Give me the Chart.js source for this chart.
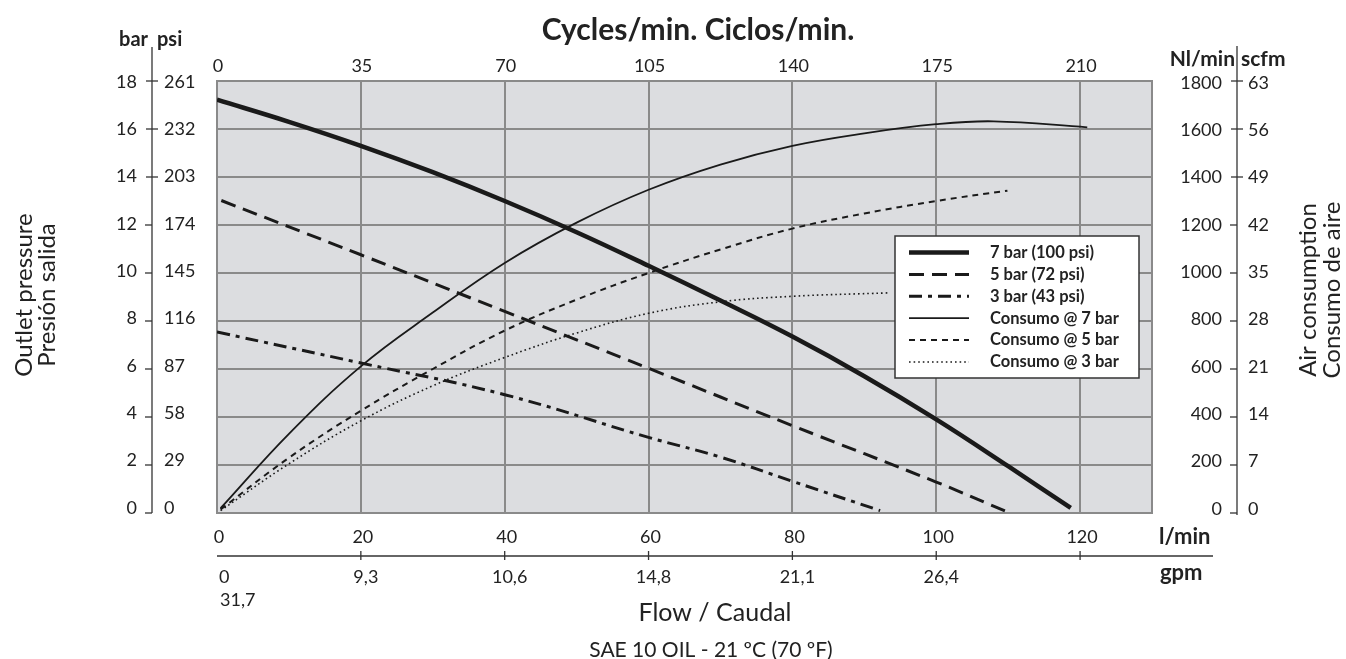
<!DOCTYPE html>
<html>
<head>
<meta charset="utf-8">
<script src="https://cdn.jsdelivr.net/npm/chart.js@4.4.1/dist/chart.umd.min.js"></script>
<style>
  html, body { margin: 0; padding: 0; background: #fff; }
  canvas { display: block; }
</style>
</head>
<body>
<canvas id="curva" width="1346" height="659"></canvas>
<script>
// ticks
const flowTicks = [0, 20, 40, 60, 80, 100, 120];
const cycleTicks = [0, 35, 70, 105, 140, 175, 210];
const gpmTicks = ["0", "9,3", "10,6", "14,8", "21,1", "26,4", ""];
const barTicks = [0, 2, 4, 6, 8, 10, 12, 14, 16, 18];
const psiTicks = [0, 29, 58, 87, 116, 145, 174, 203, 232, 261];
const nlTicks = [0, 200, 400, 600, 800, 1000, 1200, 1400, 1600, 1800];
const scfmTicks = [0, 7, 14, 21, 28, 35, 42, 49, 56, 63];

// presion de salida (bar) vs caudal (l/min)
const flow7 = [0, 10, 20, 30, 40, 50, 60, 70, 80, 90, 100, 110, 118.7];
const bar7 = [17.22, 16.3, 15.3, 14.2, 13.0, 11.7, 10.3, 8.85, 7.35, 5.7, 3.9, 1.95, 0.21];
const flow5 = [0.6, 20, 40, 60, 80, 100, 109.9];
const bar5 = [13.02, 10.76, 8.4, 6.03, 3.64, 1.29, 0.04];
const flow3 = [0, 20, 40, 60, 70, 80, 92.2];
const bar3 = [7.54, 6.25, 4.93, 3.15, 2.33, 1.32, 0.1];

// consumo de aire (Nl/min) vs caudal (l/min)
const airFlow7 = [0.5, 10, 20, 30, 40, 50, 60, 70, 80, 90, 100, 108, 121];
const air7 = [20, 330, 611, 835, 1042, 1210, 1347, 1452, 1530, 1582, 1620, 1632, 1607];
const airFlow5 = [0.5, 10, 20, 30, 40, 50, 60, 70, 80, 90, 100, 109.9];
const air5 = [15, 230, 426, 600, 760, 889, 1000, 1098, 1185, 1248, 1300, 1343];
const airFlow3 = [0.5, 10, 20, 30, 40, 50, 60, 70, 80, 93.2];
const air3 = [10, 205, 384, 530, 648, 750, 832, 880, 903, 917];

const FONT = "Lato, 'Open Sans', sans-serif";
const INK = "#1a1a1a";
const GRID = "#8a8a8a";

const pts = (xs, ys) => xs.map((x, i) => ({ x: x, y: ys[i] }));

const mkLine = (label, xs, ys, width, dash, axis) => ({
  label: label,
  data: pts(xs, ys),
  yAxisID: axis,
  borderColor: INK,
  borderWidth: width,
  borderDash: dash,
  borderCapStyle: "butt",
  pointRadius: 0,
  fill: false,
  tension: 0.4,
});

const datasets = [
  mkLine("7 bar (100 psi)", flow7, bar7, 4.5, [], "y"),
  mkLine("5 bar (72 psi)", flow5, bar5, 3, [15, 8], "y"),
  mkLine("3 bar (43 psi)", flow3, bar3, 3, [13, 6, 4, 6], "y"),
  mkLine("Consumo @ 7 bar", airFlow7, air7, 1.8, [], "y2"),
  mkLine("Consumo @ 5 bar", airFlow5, air5, 2, [6, 5], "y2"),
  mkLine("Consumo @ 3 bar", airFlow3, air3, 1.6, [1.6, 3], "y2"),
];

// dibujo de ejes, textos y leyenda
const decor = {
  id: "decor",
  beforeDraw(chart) {
    const { ctx, chartArea: a } = chart;
    ctx.save();
    ctx.fillStyle = "#dcdde0";
    ctx.fillRect(a.left, a.top, a.right - a.left, a.bottom - a.top);
    ctx.restore();
  },
  beforeDatasetsDraw(chart) {
    const { ctx, chartArea: a } = chart;
    ctx.save();
    ctx.strokeStyle = GRID;
    ctx.lineWidth = 2;
    ctx.strokeRect(a.left, a.top, a.right - a.left, a.bottom - a.top);
    ctx.restore();
  },
  afterDraw(chart) {
    const { ctx, chartArea: a } = chart;
    const sx = chart.scales.x;
    const sy = chart.scales.y;
    const sy2 = chart.scales.y2;
    ctx.save();
    ctx.fillStyle = "#222";
    ctx.strokeStyle = "#333";
    ctx.textBaseline = "middle";

    // titulo superior
    ctx.font = "bold 30px " + FONT;
    ctx.textAlign = "center";
    ctx.fillText("Cycles/min. Ciclos/min.", 698, 30);

    // ciclos arriba
    ctx.font = "18px " + FONT;
    cycleTicks.forEach((c, i) => {
      ctx.fillText(String(c), sx.getPixelForValue(flowTicks[i]) + 1, 66);
    });

    // eje izquierdo bar / psi
    const lx = 152;
    ctx.lineWidth = 1.3;
    ctx.beginPath();
    ctx.moveTo(lx, 47);
    ctx.lineTo(lx, a.bottom);
    ctx.stroke();
    barTicks.forEach((b, i) => {
      const y = sy.getPixelForValue(b);
      const ly = y - ((18 - b) / 18) * 6 + 1;
      ctx.beginPath();
      if (b >= 14) { ctx.moveTo(lx - 6, y); ctx.lineTo(lx + 6, y); }
      else { ctx.moveTo(lx - 7, y); ctx.lineTo(lx, y); }
      ctx.stroke();
      ctx.textAlign = "right";
      ctx.fillText(String(b), 137, ly);
      ctx.textAlign = "left";
      ctx.fillText(String(psiTicks[i]), 164, ly);
    });
    ctx.font = "bold 20px " + FONT;
    ctx.textAlign = "right";
    ctx.fillText("bar", 148, 40);
    ctx.textAlign = "left";
    ctx.fillText("psi", 157, 40);

    // eje derecho Nl/min / scfm
    const rx = 1237;
    ctx.font = "18px " + FONT;
    ctx.beginPath();
    ctx.moveTo(rx, 46);
    ctx.lineTo(rx, a.bottom + 2);
    ctx.stroke();
    nlTicks.forEach((n, i) => {
      const y = sy2.getPixelForValue(n);
      const ly = y - ((1800 - n) / 1800) * 6 + 2;
      ctx.beginPath();
      if (n >= 1400) { ctx.moveTo(rx - 6, y); ctx.lineTo(rx + 6, y); }
      else { ctx.moveTo(rx - 7, y); ctx.lineTo(rx, y); }
      ctx.stroke();
      ctx.textAlign = "right";
      ctx.fillText(String(n), 1222, ly);
      ctx.textAlign = "left";
      ctx.fillText(String(scfmTicks[i]), 1248, ly);
    });
    ctx.font = "bold 21px " + FONT;
    ctx.textAlign = "right";
    ctx.fillText("Nl/min", 1235, 59);
    ctx.textAlign = "left";
    ctx.fillText("scfm", 1241, 59);

    // caudal abajo
    ctx.font = "18px " + FONT;
    ctx.textAlign = "center";
    flowTicks.forEach((f) => {
      ctx.fillText(String(f), sx.getPixelForValue(f) + 2, 537);
    });
    const by = 556;
    ctx.beginPath();
    ctx.moveTo(a.left, by);
    ctx.lineTo(1213, by);
    ctx.stroke();
    flowTicks.forEach((f, i) => {
      const x = sx.getPixelForValue(f);
      if (i > 0) {
        ctx.beginPath();
        ctx.moveTo(x, by - 5);
        ctx.lineTo(x, by + 4);
        ctx.stroke();
      }
      if (i === 0) {
        ctx.textAlign = "left";
        ctx.fillText(gpmTicks[i], x + 2, 577);
        ctx.fillText("31,7", x + 3, 600);
      } else {
        ctx.textAlign = "center";
        ctx.fillText(gpmTicks[i], x + 5, 577);
      }
    });
    ctx.font = "bold 22px " + FONT;
    ctx.textAlign = "left";
    ctx.fillText("l/min", 1159, 537);
    ctx.fillText("gpm", 1160, 573);

    ctx.font = "25px " + FONT;
    ctx.textAlign = "center";
    ctx.fillText("Flow / Caudal", 715, 613);
    ctx.font = "21px " + FONT;
    ctx.fillText("SAE 10 OIL - 21 ºC (70 ºF)", 711, 650);

    // titulos verticales
    ctx.font = "24px " + FONT;
    ctx.save();
    ctx.translate(24, 295);
    ctx.rotate(-Math.PI / 2);
    ctx.fillText("Outlet pressure", 0, 0);
    ctx.fillText("Presión salida", 0, 23);
    ctx.restore();
    ctx.save();
    ctx.translate(1308, 290);
    ctx.rotate(-Math.PI / 2);
    ctx.fillText("Air consumption", 0, 0);
    ctx.fillText("Consumo de aire", 0, 24);
    ctx.restore();

    // leyenda
    const L = { x: 895, y: 236, w: 244, h: 142 };
    ctx.fillStyle = "#fff";
    ctx.fillRect(L.x, L.y, L.w, L.h);
    ctx.strokeStyle = "#333";
    ctx.lineWidth = 1.5;
    ctx.strokeRect(L.x, L.y, L.w, L.h);
    chart.data.datasets.forEach((ds, i) => {
      const y = L.y + 16.5 + i * 21.9;
      ctx.strokeStyle = INK;
      ctx.lineWidth = ds.borderWidth;
      ctx.setLineDash(ds.borderDash);
      ctx.beginPath();
      ctx.moveTo(L.x + 14, y);
      ctx.lineTo(L.x + 74, y);
      ctx.stroke();
      ctx.setLineDash([]);
      ctx.fillStyle = "#222";
      ctx.font = "bold 16.5px " + FONT;
      ctx.textAlign = "left";
      ctx.fillText(ds.label, L.x + 95, y);
    });
    ctx.restore();
  },
};

new Chart(document.getElementById("curva"), {
  type: "line",
  data: { datasets: datasets },
  options: {
    responsive: false,
    animation: false,
    devicePixelRatio: 1,
    layout: { padding: { left: 217, right: 194, top: 81, bottom: 146 } },
    plugins: { legend: { display: false }, tooltip: { enabled: false } },
    scales: {
      x: {
        type: "linear",
        min: 0,
        max: 130,
        ticks: { display: false, stepSize: 20, includeBounds: false },
        grid: { color: GRID, lineWidth: 2, drawTicks: false },
        border: { display: false },
      },
      y: {
        type: "linear",
        min: 0,
        max: 18,
        ticks: { display: false, stepSize: 2 },
        grid: { color: GRID, lineWidth: 2, drawTicks: false },
        border: { display: false },
      },
      y2: {
        type: "linear",
        display: false,
        min: 0,
        max: 1800,
      },
    },
  },
  plugins: [decor],
});
</script>
</body>
</html>
